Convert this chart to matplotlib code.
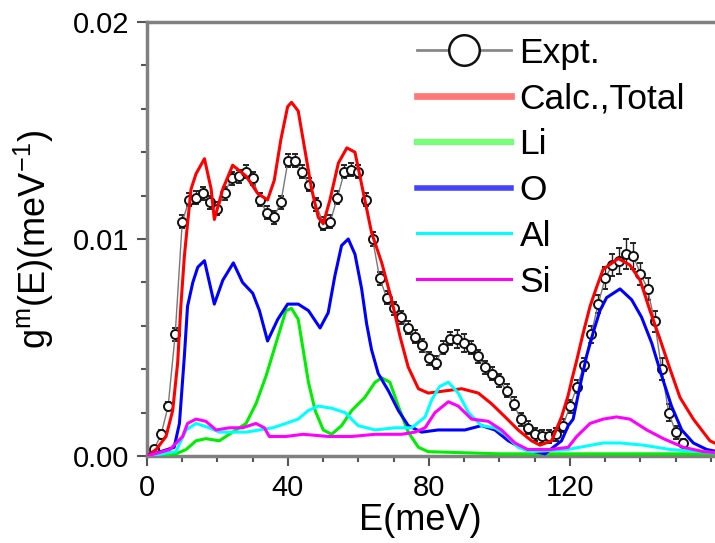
import numpy as np
import matplotlib
matplotlib.use("Agg")
import matplotlib.pyplot as plt
from matplotlib.lines import Line2D
from matplotlib.ticker import MultipleLocator, FixedLocator, FixedFormatter

# ---- data ----
labels = ["Expt.", "Calc.,Total", "Li", "O", "Al", "Si"]

# experiment, 2 meV grid
E_expt = np.arange(0, 154, 2)
g_expt = [
    0.0000, 0.0003, 0.0010, 0.0023, 0.0056, 0.0108, 0.0118, 0.0119, 0.0121, 0.0117,
    0.0114, 0.0121, 0.0128, 0.0129, 0.0131, 0.0128, 0.0118, 0.0112, 0.0110, 0.0117,
    0.0136, 0.0136, 0.0131, 0.0125, 0.0116, 0.0107, 0.0108, 0.0119, 0.0131, 0.0132,
    0.0131, 0.0118, 0.0100, 0.0082, 0.0073, 0.0068, 0.0064, 0.0059, 0.0055, 0.0051,
    0.0045, 0.0043, 0.0050, 0.0054, 0.0054, 0.0052, 0.0050, 0.0046, 0.0041, 0.0038,
    0.0035, 0.0030, 0.0024, 0.0017, 0.0013, 0.0010, 0.0009, 0.0009, 0.0010, 0.0014,
    0.0023, 0.0032, 0.0042, 0.0056, 0.0070, 0.0082, 0.0088, 0.0090, 0.0093, 0.0092,
    0.0084, 0.0077, 0.0062, 0.0040, 0.0020, 0.0011, 0.0006,
]
err_expt = [
    0.0001, 0.0001, 0.0002, 0.0002, 0.0003, 0.0003, 0.0003, 0.0003, 0.0003, 0.0003,
    0.0003, 0.0003, 0.0003, 0.0003, 0.0003, 0.0003, 0.0003, 0.0003, 0.0003, 0.0003,
    0.0003, 0.0003, 0.0003, 0.0003, 0.0003, 0.0003, 0.0003, 0.0003, 0.0003, 0.0003,
    0.0003, 0.0003, 0.0003, 0.0003, 0.0003, 0.0003, 0.0003, 0.0003, 0.0003, 0.0003,
    0.0003, 0.0003, 0.0003, 0.0003, 0.0004, 0.0004, 0.0003, 0.0003, 0.0003, 0.0003,
    0.0003, 0.0003, 0.0003, 0.0003, 0.0003, 0.0003, 0.0003, 0.0003, 0.0003, 0.0003,
    0.0003, 0.0003, 0.0003, 0.0004, 0.0004, 0.0005, 0.0005, 0.0006, 0.0007, 0.0006,
    0.0005, 0.0005, 0.0005, 0.0005, 0.0004, 0.0003, 0.0002,
]

# calculated total
E_tot = [0, 2.6, 5.4, 7.3, 8.7, 9.6, 10.6, 11.5, 12.5, 13.9,
         16.3, 18.2, 19.1, 21.5, 24.3, 28.1, 31.4, 34.2, 36.1, 38.0,
         39.9, 41.0, 42.9, 44.8, 46.7, 48.6, 50.0, 51.9, 54.3, 56.7,
         59.0, 61.8, 63.7, 66.6, 69.4, 71.8, 74.1, 77.0, 79.8, 84.5,
         89.3, 94.0, 97.8, 101.6, 105.3, 109.1, 111.5, 114.8, 117.6, 119.5,
         120.5, 121.9, 123.8, 125.7, 127.6, 129.4, 133.7, 137.0, 139.9, 142.7,
         145.5, 148.4, 151.2, 155.0, 159.7, 165]
g_tot = [0.0, 0.0003, 0.0009, 0.0021, 0.0043, 0.0069, 0.0092, 0.0107, 0.0123, 0.0130,
         0.0137, 0.0123, 0.0109, 0.0123, 0.0134, 0.0129, 0.0121, 0.0118, 0.0127, 0.0146,
         0.0161, 0.0163, 0.0159, 0.0141, 0.0123, 0.0110, 0.0107, 0.0118, 0.0135, 0.0142,
         0.0140, 0.0118, 0.0103, 0.0089, 0.0072, 0.0055, 0.0041, 0.0031, 0.0029, 0.0030,
         0.0031, 0.0029, 0.0024, 0.0018, 0.0012, 0.0007, 0.0005, 0.0007, 0.0018, 0.0028,
         0.0035, 0.0044, 0.0057, 0.0069, 0.0078, 0.0086, 0.0091, 0.0088, 0.0081, 0.0067,
         0.0054, 0.0040, 0.0027, 0.0017, 0.0007, 0.0003]

# partial: Li
E_li = [0, 8.2, 11.1, 13.9, 16.7, 20.5, 24.3, 28.1, 30.9, 33.8,
        36.6, 39.4, 41.0, 42.9, 44.3, 45.8, 47.7, 50.0, 52.4, 55.2,
        58.1, 61.8, 64.7, 66.6, 68.9, 71.3, 74.1, 77.0, 79.8, 100, 165]
g_li = [0.0, 0.0001, 0.0003, 0.0007, 0.0008, 0.0007, 0.0011, 0.0015, 0.0024, 0.0037,
        0.0052, 0.0067, 0.0068, 0.0063, 0.0049, 0.0034, 0.0021, 0.0012, 0.0010, 0.0014,
        0.0021, 0.0027, 0.0034, 0.0036, 0.0034, 0.0023, 0.0011, 0.0004, 0.0002, 0.0001, 0.0001]

# partial: O
E_o = [0, 7.7, 9.2, 10.6, 11.5, 13.0, 14.4, 16.3, 17.7, 19.1,
       21.5, 24.5, 27.1, 30.0, 31.9, 34.2, 37.1, 39.9, 42.9, 45.8,
       49.1, 51.4, 53.3, 55.2, 57.1, 59.0, 60.9, 62.3, 63.7, 65.6,
       68.5, 71.3, 74.1, 77.9, 82.6, 90.2, 94.9, 98.7, 102.5, 107.2,
       112.9, 117.6, 119.5, 120.9, 122.8, 124.7, 126.6, 128.5, 130.4, 134.2,
       137.5, 140.3, 143.2, 146.0, 148.8, 151.7, 155.0, 158.8, 165]
g_o = [0.0, 0.0004, 0.0015, 0.0046, 0.0069, 0.0080, 0.0087, 0.0090, 0.0080, 0.0070,
       0.0081, 0.0089, 0.0080, 0.0075, 0.0067, 0.0053, 0.0063, 0.0070, 0.0070, 0.0067,
       0.0059, 0.0066, 0.0083, 0.0097, 0.0100, 0.0093, 0.0077, 0.0061, 0.0049, 0.0038,
       0.0030, 0.0021, 0.0014, 0.0011, 0.0012, 0.0012, 0.0014, 0.0012, 0.0007, 0.0003,
       0.0001, 0.0007, 0.0014, 0.0017, 0.0032, 0.0046, 0.0057, 0.0067, 0.0073, 0.0077,
       0.0072, 0.0064, 0.0052, 0.0037, 0.0023, 0.0012, 0.0006, 0.0003, 0.0001]

# partial: Al
E_al = [0, 8.2, 11.1, 13.9, 17.7, 20.5, 24.3, 28.1, 31.9, 35.7,
        39.4, 42.9, 45.8, 48.6, 52.4, 56.2, 59.9, 64.7, 70.4, 75.1,
        78.9, 80.8, 83.0, 85.5, 88.3, 91.2, 94.9, 98.7, 101.6, 105.3,
        109.0, 119.4, 129.4, 134.2, 140.8, 148.4, 157.0, 165]
g_al = [0.0, 0.0002, 0.0012, 0.0015, 0.0013, 0.0011, 0.0011, 0.0011, 0.0012, 0.0013,
        0.0015, 0.0017, 0.0021, 0.0023, 0.0022, 0.0020, 0.0014, 0.0012, 0.0013, 0.0013,
        0.0018, 0.0026, 0.0032, 0.0034, 0.0029, 0.0020, 0.0014, 0.0013, 0.0010, 0.0004,
        0.0002, 0.0003, 0.0006, 0.0006, 0.0005, 0.0003, 0.0002, 0.0001]

# partial: Si
E_si = [0, 6.5, 10.1, 11.5, 13.9, 16.7, 19.6, 23.4, 27.1, 30.9,
        33.3, 34.7, 39.4, 44.3, 51.4, 58.1, 64.7, 72.2, 76.0, 78.9,
        81.7, 85.5, 88.3, 92.1, 96.8, 100.6, 104.4, 108.0, 114.5, 119.5,
        121.9, 125.7, 129.4, 133.2, 137.0, 141.8, 146.5, 152.2, 157.9, 165]
g_si = [0.0, 0.0003, 0.0009, 0.0015, 0.0017, 0.0016, 0.0012, 0.0013, 0.0013, 0.0015,
        0.0013, 0.0009, 0.0009, 0.0010, 0.0009, 0.0009, 0.0010, 0.0010, 0.0011, 0.0013,
        0.0020, 0.0025, 0.0023, 0.0017, 0.0016, 0.0012, 0.0006, 0.0003, 0.0003, 0.0004,
        0.0009, 0.0015, 0.0017, 0.0018, 0.0017, 0.0012, 0.0008, 0.0004, 0.0002, 0.0001]

x_major = [0, 40, 80, 120]
y_major = [0.0, 0.01, 0.02]
y_ticklabels = ["0.00", "0.01", "0.02"]

# ---- style ----
plt.rcParams.update({
    "font.family": "Liberation Sans",
    "mathtext.fontset": "custom",
    "mathtext.rm": "Liberation Sans",
    "mathtext.default": "regular",
})
spine_col = "#808080"
calc_colors = ["#ff0000", "#00ee00", "#0000ff", "#00ffff", "#ff00ff"]
handle_colors = ["#ff7777", "#77ff77", "#4444ff", "#00ffff", "#ff00ff"]
handle_widths = [4.8, 4.5, 4.0, 2.2, 2.2]

fig = plt.figure(figsize=(7.15, 5.43), dpi=100)
# right edge of the axes runs past the canvas, as in the cropped original
ax = fig.add_axes([147 / 715, 87 / 543, 581.6 / 715, 434 / 543])

ax.errorbar(E_expt, g_expt, yerr=err_expt, fmt="-o", color="#777777", lw=1.0,
            ms=6.5, mfc="white", mec="#111111", mew=1.4,
            ecolor="#222222", elinewidth=1.0, capsize=2.5, zorder=2)

series = [(E_tot, g_tot), (E_li, g_li), (E_o, g_o), (E_al, g_al), (E_si, g_si)]
for (ex, gy), c in zip(series, calc_colors):
    ax.plot(ex, gy, color=c, lw=2.2, zorder=3, solid_joinstyle="round")

ax.set_xlim(0, 165)
ax.set_ylim(0, 0.02)

ax.xaxis.set_major_locator(FixedLocator(x_major))
ax.xaxis.set_minor_locator(MultipleLocator(10))
ax.yaxis.set_major_locator(FixedLocator(y_major))
ax.yaxis.set_major_formatter(FixedFormatter(y_ticklabels))
ax.yaxis.set_minor_locator(MultipleLocator(0.002))

ax.tick_params(which="major", direction="out", length=7, width=1.5,
               color="#555555", labelsize=21, pad=6)
ax.tick_params(which="minor", direction="out", length=4, width=1.5, color="#555555")
ax.tick_params(top=False, right=False, which="both")

for s in ["left", "bottom", "top"]:
    ax.spines[s].set_color(spine_col)
    ax.spines[s].set_linewidth(2.5)
ax.spines["right"].set_visible(False)

ax.set_xlabel("E(meV)", fontsize=26)
ax.xaxis.set_label_coords(0.47, -0.148, transform=ax.transAxes)
ax.xaxis.label.set_va("center")
ax.set_ylabel(r"g$^{m}$(E)(meV$^{-1}$)", fontsize=26, labelpad=12)

# legend
handles = [Line2D([], [], color="#888888", lw=2.0, marker="o", ms=22,
                  mfc="white", mec="#111111", mew=1.8)]
for c, w in zip(handle_colors, handle_widths):
    handles.append(Line2D([], [], color=c, lw=w))
ax.legend(handles, labels, loc="upper left", bbox_to_anchor=(0.464, 0.966),
          frameon=False, fontsize=25.5, handlelength=2.65, handletextpad=0.25,
          labelspacing=0.36, borderpad=0, borderaxespad=0)

fig.savefig("out.png", dpi=100)
